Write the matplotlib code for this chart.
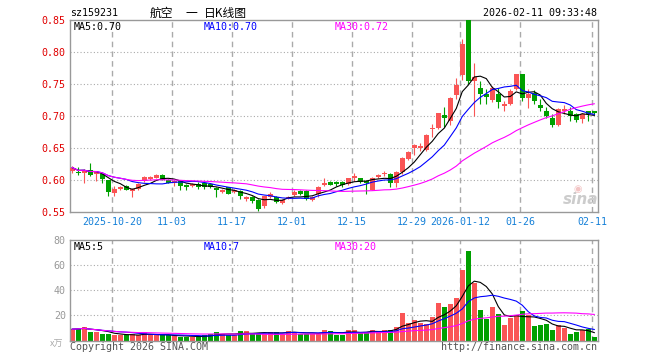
import numpy as np
import pandas as pd
import matplotlib
matplotlib.use("Agg")
from matplotlib import pyplot as plt

# ---- data (88 trading days, 2025-10-09 .. 2026-02-11)
opens = [0.6136, 0.612, 0.611, 0.615, 0.608, 0.608, 0.599, 0.579, 0.586, 0.590,
         0.582, 0.585, 0.597, 0.6015, 0.603, 0.607, 0.600, 0.595, 0.597, 0.591,
         0.590, 0.593, 0.594, 0.593, 0.587, 0.581, 0.588, 0.581, 0.582, 0.569,
         0.572, 0.568, 0.558, 0.573, 0.573, 0.564, 0.570, 0.576, 0.582, 0.582,
         0.568, 0.577, 0.591, 0.596, 0.596, 0.596, 0.593, 0.603, 0.602, 0.598,
         0.584, 0.604, 0.608, 0.609, 0.595, 0.612, 0.633, 0.650, 0.650, 0.646,
         0.679, 0.681, 0.701, 0.691, 0.732, 0.764, 0.850, 0.754, 0.744, 0.734,
         0.724, 0.734, 0.716, 0.719, 0.742, 0.765, 0.728, 0.736, 0.717, 0.707,
         0.697, 0.686, 0.708, 0.708, 0.702, 0.695, 0.707, 0.707]
closes = [0.6188, 0.610, 0.615, 0.607, 0.612, 0.601, 0.580, 0.586, 0.589, 0.584,
          0.585, 0.593, 0.604, 0.604, 0.607, 0.600, 0.595, 0.598, 0.590, 0.589,
          0.593, 0.589, 0.589, 0.588, 0.584, 0.583, 0.578, 0.583, 0.574, 0.573,
          0.567, 0.554, 0.574, 0.577, 0.565, 0.568, 0.573, 0.581, 0.577, 0.569,
          0.573, 0.589, 0.595, 0.592, 0.593, 0.591, 0.602, 0.605, 0.596, 0.594,
          0.603, 0.607, 0.610, 0.594, 0.612, 0.634, 0.643, 0.654, 0.652, 0.670,
          0.681, 0.704, 0.696, 0.728, 0.748, 0.813, 0.755, 0.760, 0.734, 0.729,
          0.744, 0.721, 0.719, 0.738, 0.765, 0.728, 0.734, 0.723, 0.712, 0.700,
          0.686, 0.710, 0.710, 0.700, 0.693, 0.703, 0.703, 0.704]
highs = [0.621, 0.619, 0.616, 0.626, 0.613, 0.610, 0.600, 0.590, 0.590, 0.591,
         0.587, 0.594, 0.605, 0.606, 0.608, 0.608, 0.601, 0.600, 0.598, 0.593,
         0.594, 0.596, 0.597, 0.594, 0.588, 0.586, 0.589, 0.585, 0.583, 0.574,
         0.574, 0.569, 0.575, 0.580, 0.575, 0.569, 0.574, 0.584, 0.583, 0.583,
         0.574, 0.590, 0.603, 0.597, 0.597, 0.597, 0.603, 0.611, 0.603, 0.599,
         0.604, 0.609, 0.613, 0.611, 0.614, 0.635, 0.645, 0.655, 0.658, 0.672,
         0.687, 0.705, 0.713, 0.729, 0.759, 0.821, 0.850, 0.782, 0.754, 0.742,
         0.746, 0.744, 0.723, 0.742, 0.766, 0.766, 0.742, 0.740, 0.726, 0.713,
         0.703, 0.712, 0.717, 0.714, 0.705, 0.704, 0.708, 0.708]
lows = [0.611, 0.607, 0.595, 0.606, 0.597, 0.595, 0.575, 0.574, 0.584, 0.583,
        0.573, 0.584, 0.596, 0.600, 0.602, 0.599, 0.594, 0.590, 0.584, 0.584,
        0.589, 0.585, 0.586, 0.587, 0.573, 0.579, 0.577, 0.579, 0.570, 0.566,
        0.564, 0.551, 0.556, 0.571, 0.563, 0.562, 0.569, 0.575, 0.576, 0.568,
        0.567, 0.572, 0.590, 0.591, 0.590, 0.589, 0.592, 0.598, 0.594, 0.577,
        0.583, 0.603, 0.605, 0.589, 0.589, 0.609, 0.630, 0.638, 0.645, 0.645,
        0.666, 0.680, 0.683, 0.686, 0.727, 0.756, 0.749, 0.700, 0.719, 0.719,
        0.722, 0.712, 0.707, 0.717, 0.740, 0.723, 0.712, 0.719, 0.707, 0.697,
        0.683, 0.684, 0.702, 0.691, 0.690, 0.688, 0.692, 0.701]
volumes = [9.0, 9.5, 10.5, 7.0, 7.0, 5.5, 5.5, 4.0, 4.0, 4.5,
           5.0, 4.0, 7.0, 4.0, 4.0, 4.0, 4.0, 4.0, 3.0, 3.0,
           3.0, 3.0, 4.0, 5.5, 7.0, 5.5, 4.0, 4.0, 7.5, 7.5,
           5.5, 5.5, 5.5, 6.8, 6.8, 5.5, 7.5, 6.3, 5.5, 5.5,
           5.5, 5.5, 8.4, 7.6, 4.7, 4.7, 8.4, 8.4, 5.7, 5.7,
           8.4, 7.6, 8.4, 8.4, 11.1, 21.5, 14.0, 16.1, 14.3, 12.9,
           18.8, 30.0, 26.3, 29.2, 34.0, 55.9, 71.6, 45.5, 24.4, 17.5,
           26.3, 21.2, 12.4, 18.3, 20.4, 23.3, 20.1, 11.6, 12.4, 13.2,
           8.4, 12.1, 10.3, 4.9, 6.8, 8.1, 8.9, 2.7]

date_labels = ["2025-10-20", "11-03", "11-17", "12-01", "12-15", "12-29",
               "2026-01-12", "01-26", "02-11"]
date_index = [7, 17, 27, 37, 47, 57, 65, 75, 87]

price_ticks = [0.55, 0.60, 0.65, 0.70, 0.75, 0.80, 0.85]
vol_ticks = [20, 40, 60, 80]

RED = "#fa5555"
GREEN = "#00a000"
GRID = "#aaaaaa"
MONO = "DejaVu Sans Mono"
CJK = ["Noto Sans CJK SC", "DejaVu Sans"]

W, H = 660, 360
def fx(x):
    return x / W
def fy(y):
    return 1 - y / H

o = np.array(opens)
c = np.array(closes)
hi = np.array(highs)
lo = np.array(lows)
vol = np.array(volumes)
x = np.arange(len(c))
up = c >= o
cols = [RED if u else GREEN for u in up]

ma = {n: pd.Series(c).rolling(n, min_periods=1).mean() for n in (5, 10, 30)}
vma = {n: pd.Series(vol).rolling(n, min_periods=1).mean() for n in (5, 10, 30)}
ma_colors = {5: "#000000", 10: "#0000ff", 30: "#ff00ff"}

fig = plt.figure(figsize=(6.6, 3.6), dpi=100)
ax1 = fig.add_axes([fx(70), fy(211.5), (597.7 - 70) / W, 191.5 / H])
ax2 = fig.add_axes([fx(70), fy(340.5), (597.7 - 70) / W, 100.5 / H])

xlim = (-0.38, 87.57)
grid_x = [i - 1 / 3 for i in date_index]

for ax in (ax1, ax2):
    ax.set_xlim(*xlim)
    for s in ax.spines.values():
        s.set_color("#999999")
        s.set_linewidth(1)
    for gx in grid_x:
        ax.axvline(gx, color=GRID, lw=1, ls=(0, (4, 3)), zorder=0)
    ax.tick_params(length=0)

# price panel
ax1.set_ylim(0.55, 0.85)
for p in price_ticks[1:-1]:
    ax1.axhline(p, color=GRID, lw=0.8, ls=(0, (1, 2)), zorder=0)
ax1.vlines(x, lo, hi, colors=cols, lw=0.8, zorder=2)
body = np.maximum(np.abs(c - o), 0.0012)
ax1.bar(x, body, bottom=np.minimum(o, c), width=0.78, color=cols, zorder=3)
for n in (5, 10, 30):
    ax1.plot(x, ma[n], color=ma_colors[n], lw=0.8, zorder=4)
ax1.set_yticks(price_ticks)
ax1.set_yticklabels([f"{p:.2f}" for p in price_ticks], color="#e00000",
                    fontfamily=MONO, fontsize=7.2)
ax1.tick_params(axis="y", pad=3)
ax1.set_xticks(grid_x)
ax1.set_xticklabels(date_labels, color="#1580d8", fontfamily=MONO, fontsize=7.2)
ax1.tick_params(axis="x", pad=4)

# volume panel
ax2.set_ylim(0, 80)
for v in vol_ticks[:-1]:
    ax2.axhline(v, color=GRID, lw=0.8, ls=(0, (1, 2)), zorder=0)
ax2.bar(x, vol, width=0.82, color=cols, zorder=2)
for n in (5, 10, 30):
    ax2.plot(x, vma[n], color=ma_colors[n], lw=0.8, zorder=3)
ax2.set_yticks(vol_ticks)
ax2.set_yticklabels([str(v) for v in vol_ticks], color="#999999",
                    fontfamily=MONO, fontsize=7.2)
ax2.tick_params(axis="y", pad=3)
ax2.set_xticks([])

# header texts
fig.text(fx(70), fy(13), "sz159231", fontfamily=MONO, fontsize=7.2,
         va="center", ha="left")
fig.text(fx(150), fy(13), "航空", family=CJK, fontsize=8.5,
         va="center", ha="left")
fig.text(fx(186), fy(13), "一", family=CJK, fontsize=8.5,
         va="center", ha="left")
fig.text(fx(204), fy(13), "日K线图", family=CJK, fontsize=8.5,
         va="center", ha="left")
fig.text(fx(597), fy(13), "2026-02-11 09:33:48", fontfamily=MONO,
         fontsize=7.2, va="center", ha="right")

fig.text(fx(74), fy(27), "MA5:0.70", fontfamily=MONO, fontsize=7.2,
         color="#000000", va="center")
fig.text(fx(204), fy(27), "MA10:0.70", fontfamily=MONO, fontsize=7.2,
         color="#0000ff", va="center")
fig.text(fx(334.5), fy(27), "MA30:0.72", fontfamily=MONO, fontsize=7.2,
         color="#ff00ff", va="center")

fig.text(fx(74), fy(246.5), "MA5:5", fontfamily=MONO, fontsize=7.2,
         color="#000000", va="center")
fig.text(fx(204), fy(246.5), "MA10:7", fontfamily=MONO, fontsize=7.2,
         color="#0000ff", va="center")
fig.text(fx(334.5), fy(246.5), "MA30:20", fontfamily=MONO, fontsize=7.2,
         color="#ff00ff", va="center")

fig.text(fx(63), fy(344), "x万", family=CJK, fontsize=6.5, color="#aaaaaa",
         va="center", ha="right")
fig.text(fx(70), fy(347), "Copyright 2026 SINA.COM", fontfamily=MONO,
         fontsize=7.2, color="#555555", va="center", ha="left")
fig.text(fx(597), fy(347), "http://finance.sina.com.cn", fontfamily=MONO,
         fontsize=7.2, color="#555555", va="center", ha="right")

# sina watermark
fig.text(fx(581), fy(200), "sina", fontsize=11, fontweight="bold",
         fontstyle="italic", color="#cccccc", ha="center", va="center")
fig.text(fx(578), fy(189), "◉", fontsize=7, color="#f2c4c4",
         ha="center", va="center")

fig.savefig("out.png", dpi=100)
